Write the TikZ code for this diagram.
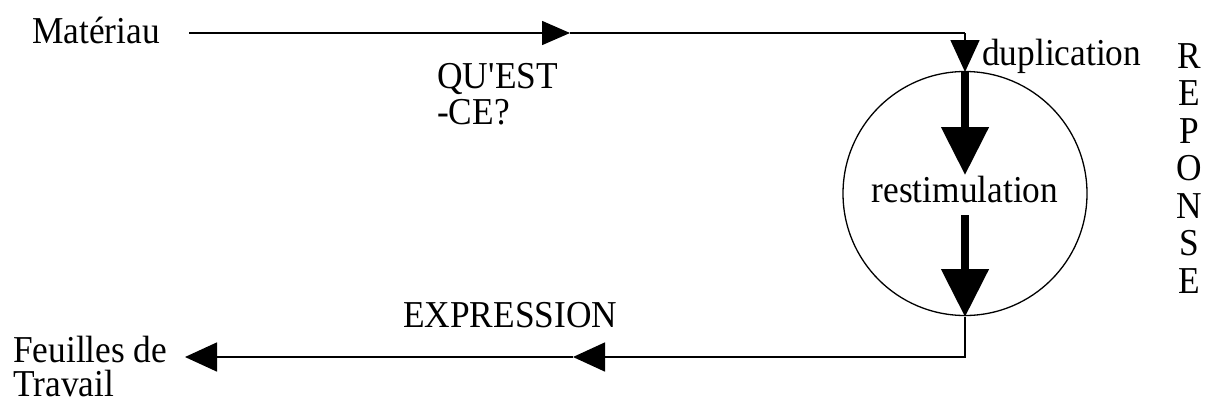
\documentclass[tikz,border=0pt]{standalone}
\usepackage{fontspec}
\setmainfont[FakeStretch=0.93]{Liberation Serif}
\usetikzlibrary{arrows.meta}
\begin{document}
\begin{tikzpicture}[x=1pt,y=-1pt,
  lbl/.style={inner sep=0pt,font=\fontsize{38}{36}\selectfont},
  thin line/.style={line width=1.6pt},
  headsmall/.style={-{Triangle[length=28pt,width=24pt]}},
  headmid/.style={-{Triangle[length=32pt,width=29pt]}},
  headbig/.style={-{Triangle[length=48pt,width=46pt]}},
  thickline/.style={line width=8pt}]
\useasboundingbox (0,0) rectangle (1206,405);

% labels (for two-line labels the base anchor sits on the last line)
\node[lbl,anchor=base west] (mat) at (32,43) {Matériau};
\node[lbl,anchor=base west,align=left] (quest) at (437,124) {QU\textquotesingle EST\\-CE?};
\node[lbl,anchor=base west] (dup) at (982,65) {duplication};
\node[lbl,anchor=base] (rest) at (965,202) {restimulation};
\node[lbl,anchor=base west] (expr) at (403,327) {EXPRESSION};
\node[lbl,anchor=base west,align=left,font=\fontsize{38}{34}\selectfont]
  (feuilles) at (13,396) {Feuilles de\\Travail};
\foreach \ch [count=\i from 0] in {R,E,P,O,N,S,E}
  \node[lbl,anchor=base] (rep\i) at (1189,{68+37.5*\i}) {\ch};

% circle around the restimulation step
\node[draw,circle,line width=1.3pt,minimum size=244pt,inner sep=0pt] (circ) at (965,193.5) {};

% path coordinates
\coordinate (start) at (189,33);
\coordinate (midtop) at (570,33);
\coordinate (corner1) at (965,33);
\coordinate (dupin) at (965,72);
\coordinate (tipA) at (965,175);
\coordinate (startB) at (965,215);
\coordinate (tipB) at (965,317);
\coordinate (corner2) at (965,357);
\coordinate (midbot) at (573,357);
\coordinate (endbot) at (185,357);

% upper branch: material in, duplication
\draw[thin line,headsmall] (start) -- (midtop);
\draw[thin line] (midtop) -- (corner1);
\draw[thin line,headmid] (corner1) -- (dupin);

% restimulation arrows inside the circle
\draw[thickline,headbig] (dupin) -- (tipA);
\draw[thickline,headbig] (startB) -- (tipB);

% lower branch: expression out to the worksheets
\draw[thin line,headmid] (tipB) -- (corner2) -- (midbot);
\draw[thin line,headmid] (midbot) -- (endbot);
\end{tikzpicture}
\end{document}
